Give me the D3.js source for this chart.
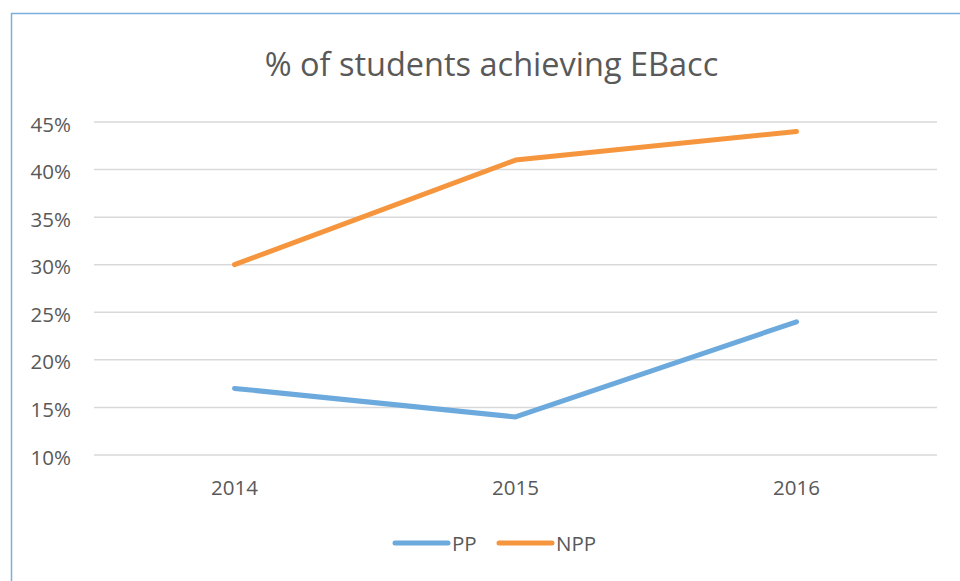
<!DOCTYPE html>
<html><head><meta charset="utf-8">
<script src="https://cdn.jsdelivr.net/npm/d3@7"></script>
<style>body{margin:0;background:#fff}svg{display:block}</style>
</head><body>
<script>
const years = ["2014", "2015", "2016"];
const ppValues = [17, 14, 24];
const nppValues = [30, 41, 44];
const yTicks = [10, 15, 20, 25, 30, 35, 40, 45];
const seriesNames = ["PP", "NPP"];
const seriesColors = ["#6CA9DC", "#F5963F"];

const W = 960, H = 581;
const svg = d3.select("body").append("svg").attr("width", W).attr("height", H);
const font = "'Open Sans', sans-serif";

// outer chart border (top + left visible)
svg.append("path").attr("d", "M11.5,581 L11.5,13.5 L960,13.5")
  .attr("fill", "none").attr("stroke", "#7BAFE0").attr("stroke-width", 1.5);

const x = d3.scaleBand().domain(years).range([94, 937]);
const y = d3.scaleLinear().domain([10, 45]).range([455, 122]);

// gridlines
svg.append("g").selectAll("line").data(yTicks).join("line")
  .attr("x1", 94).attr("x2", 937)
  .attr("y1", d => y(d)).attr("y2", d => y(d))
  .attr("stroke", "#D9D9D9").attr("stroke-width", 1.5);

// y labels
svg.append("g").selectAll("text").data(yTicks).join("text")
  .attr("x", 71).attr("y", d => y(d) + 9.5)
  .attr("text-anchor", "end").attr("font-family", font).attr("font-size", 20.5)
  .attr("fill", "#595959").text(d => d + "%");

// x labels
svg.append("g").selectAll("text").data(years).join("text")
  .attr("x", d => x(d) + x.bandwidth() / 2).attr("y", 495)
  .attr("text-anchor", "middle").attr("font-family", font).attr("font-size", 20.5)
  .attr("fill", "#595959").text(d => d);

// title
svg.append("text").attr("x", 491.5).attr("y", 76).attr("text-anchor", "middle")
  .attr("font-family", font).attr("font-size", 32.5).attr("fill", "#595959")
  .text("% of students achieving EBacc");

const line = d3.line().x((d, i) => x(years[i]) + x.bandwidth() / 2).y(d => y(d));
[ppValues, nppValues].forEach((vals, k) => {
  svg.append("path").datum(vals).attr("d", line)
    .attr("fill", "none").attr("stroke", seriesColors[k]).attr("stroke-width", 5)
    .attr("stroke-linecap", "round").attr("stroke-linejoin", "round");
});

// legend
const legX = [395, 499];
seriesNames.forEach((n, k) => {
  svg.append("line").attr("x1", legX[k]).attr("x2", legX[k] + 53)
    .attr("y1", 543).attr("y2", 543)
    .attr("stroke", seriesColors[k]).attr("stroke-width", 5).attr("stroke-linecap", "round");
  svg.append("text").attr("x", legX[k] + 57).attr("y", 551)
    .attr("font-family", font).attr("font-size", 20.5).attr("fill", "#595959").text(n);
});
</script>
</body></html>
